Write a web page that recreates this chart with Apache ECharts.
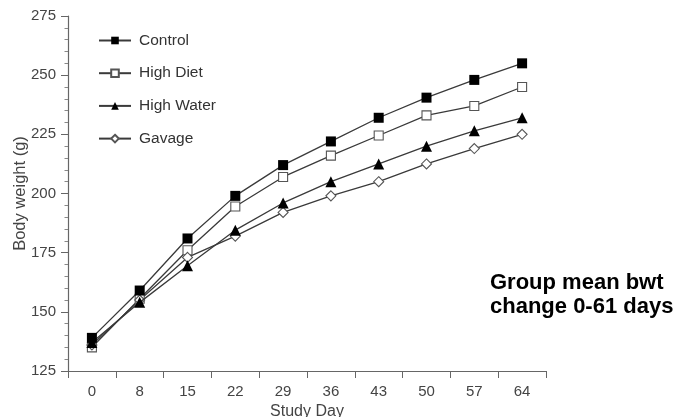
<!DOCTYPE html>
<html><head><meta charset="utf-8">
<script src="https://cdn.jsdelivr.net/npm/echarts@6/dist/echarts.min.js"></script>
<style>html,body{margin:0;padding:0;background:#fff}#c{width:674px;height:417px}</style>
</head><body><div id="c"></div>
<script>
const days = ['0','8','15','22','29','36','43','50','57','64'];
const control   = [139, 159, 181, 199, 212, 222, 232, 240.5, 248, 255];
const highDiet  = [135, 155.5, 176, 194.5, 207, 216, 224.5, 233, 237, 245];
const highWater = [137, 154, 169.5, 184.5, 196, 205, 212.5, 220, 226.5, 232];
const gavage    = [136, 155, 173, 182, 192, 199, 205, 212.5, 219, 225];
const names = ['Control','High Diet','High Water','Gavage'];

const FONT = 'Liberation Sans, Arial, Helvetica';
const lineCol = '#3a3a3a';
function ser(name, data, symbol, filled, size){
  return {
    name, type:'line', data, symbol, symbolSize:size,
    lineStyle:{color:lineCol,width:1.3},
    itemStyle: filled ? {color:'#000',borderColor:'#000',borderWidth:0}
                      : {color:'#fff',borderColor:'#555',borderWidth:1.1},
    emphasis:{disabled:true}, animation:false, z: filled?3:2
  };
}
const chart = echarts.init(document.getElementById('c'));
chart.setOption({
  animation:false,
  grid:{left:68,right:128,top:16,bottom:46,containLabel:false,outerBoundsMode:'none'},
  legend:{
    orient:'vertical', left:93, top:27.5, itemWidth:32, itemHeight:9.5, itemGap:16.7,
    data:names, textStyle:{fontFamily:FONT,fontSize:15.5,color:'#333',padding:[0,0,0,3]},
    selectedMode:false
  },
  xAxis:{
    type:'category', data:days, boundaryGap:true,
    name:'Study Day', nameLocation:'middle', nameGap:30,
    nameTextStyle:{fontFamily:FONT,fontSize:16,color:'#444'},
    axisLine:{lineStyle:{color:'#666',width:1.2}},
    axisTick:{show:true,length:7,lineStyle:{color:'#666'}},
    axisLabel:{fontFamily:FONT,fontSize:15,color:'#444',margin:13},
    splitLine:{show:false}
  },
  yAxis:{
    type:'value', min:125, max:275, interval:25,
    name:'Body weight (g)', nameLocation:'middle', nameGap:39, nameMoveOverlap:false,
    nameTextStyle:{fontFamily:FONT,fontSize:16.5,color:'#444'},
    axisLine:{show:true,lineStyle:{color:'#666',width:1.2}},
    axisTick:{show:true,length:7,lineStyle:{color:'#666'}},
    minorTick:{show:true,splitNumber:5,length:3.5,lineStyle:{color:'#888'}},
    axisLabel:{fontFamily:FONT,fontSize:15,color:'#444',margin:12},
    splitLine:{show:false}
  },
  series:[
    ser('Control', control, 'rect', true, 10),
    ser('High Diet', highDiet, 'rect', false, 9),
    ser('High Water', highWater, 'triangle', true, 11),
    ser('Gavage', gavage, 'diamond', false, 10)
  ],
  graphic:[{
    type:'text', left:490, top:271,
    style:{text:'Group mean bwt\nchange 0-61 days', fontFamily:FONT,
      fontSize:22, fontWeight:'bold', fill:'#000', lineHeight:24}
  }]
});
</script></body></html>
